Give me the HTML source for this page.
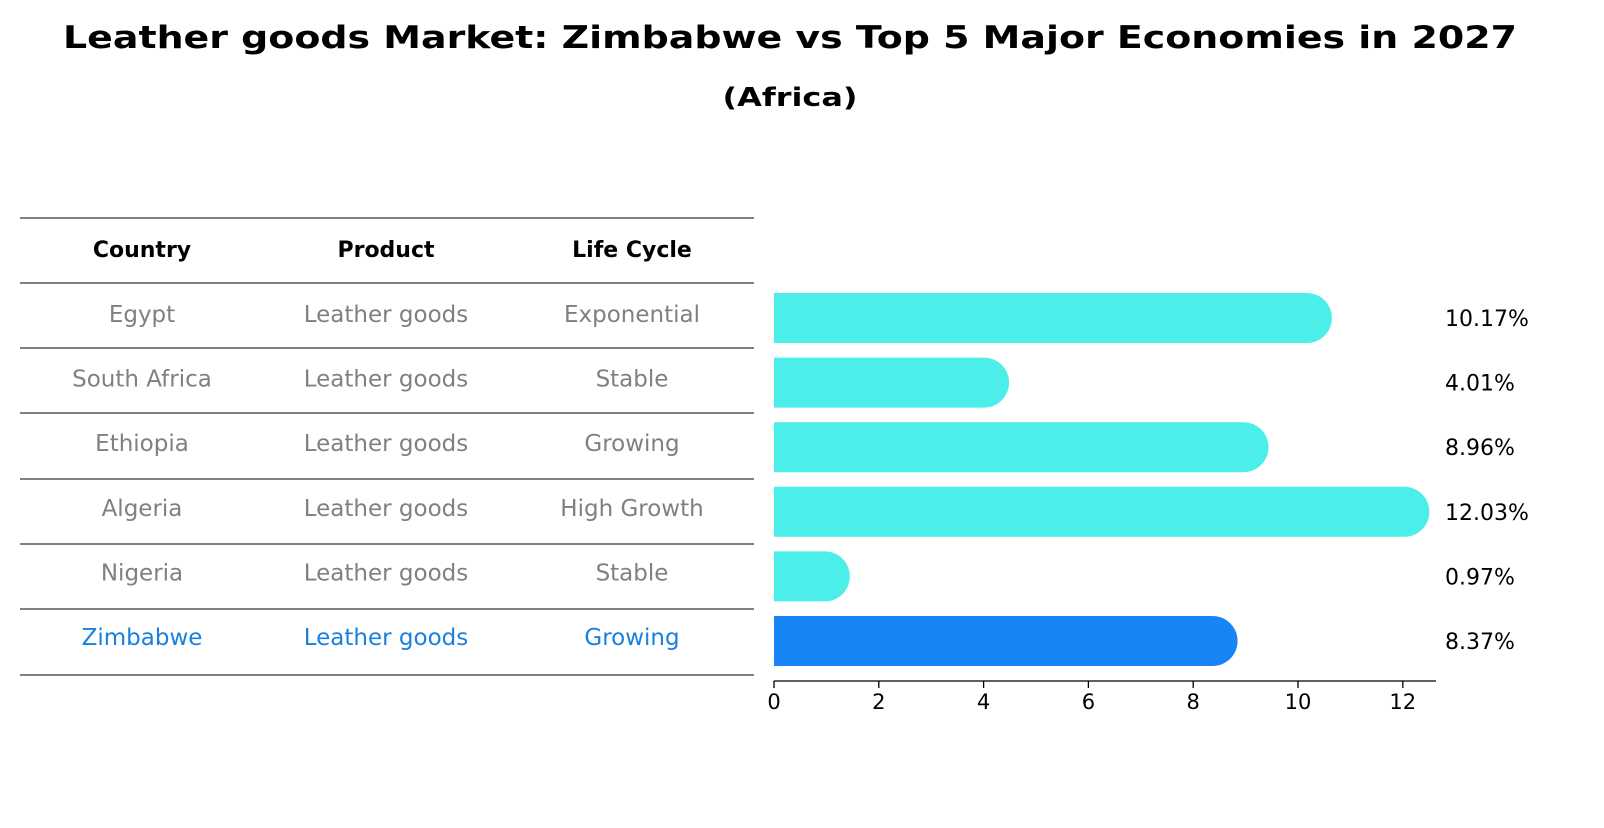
<!DOCTYPE html>
<html><head><meta charset="utf-8"><style>
body{margin:0;background:#fff;font-family:"Liberation Sans","DejaVu Sans",sans-serif;}
svg text{font-family:"DejaVu Sans","Liberation Sans",sans-serif;}
</style></head><body>
<svg id="c" width="1604" height="823" viewBox="0 0 1604 823" xmlns="http://www.w3.org/2000/svg">
<text x="790" y="48" text-anchor="middle" font-size="31" font-weight="bold" textLength="1454" lengthAdjust="spacingAndGlyphs">Leather goods Market: Zimbabwe vs Top 5 Major Economies in 2027</text>
<text x="790" y="106" text-anchor="middle" font-size="26" font-weight="bold" textLength="135" lengthAdjust="spacingAndGlyphs">(Africa)</text>
<g id="table"></g>
<g id="bars"></g>
</svg>
<script>
const countries=["Egypt","South Africa","Ethiopia","Algeria","Nigeria","Zimbabwe"];
const products=["Leather goods","Leather goods","Leather goods","Leather goods","Leather goods","Leather goods"];
const lifeCycles=["Exponential","Stable","Growing","High Growth","Stable","Growing"];
const values=[10.17,4.01,8.96,12.03,0.97,8.37];
const valueLabels=["10.17%","4.01%","8.96%","12.03%","0.97%","8.37%"];
const ticks=[0,2,4,6,8,10,12];
const NS="http://www.w3.org/2000/svg";
const x0=774,pxPer=52.4;
const xs=v=>x0+v*pxPer;
const rowY=i=>315+i*64.6;
function mk(tag,attrs,parent){const e=document.createElementNS(NS,tag);for(const k in attrs)e.setAttribute(k,attrs[k]);parent.appendChild(e);return e;}
const tb=document.getElementById('table'),bg=document.getElementById('bars');
const lines=[218,283,348,413,479,544,609,675];
lines.forEach(y=>{const l=mk('line',{x1:20,x2:754,y1:y,y2:y,stroke:'#000','stroke-width':1},tb);

});
const cx=[142,386,632];
["Country","Product","Life Cycle"].forEach((h,j)=>{const t=mk('text',{x:cx[j],y:257,'text-anchor':'middle','font-size':22,'font-weight':'bold'},tb);t.textContent=h;

});
countries.forEach((c,i)=>{const col=i===5?'#1a80e0':'#808080';
[c,products[i],lifeCycles[i]].forEach((s,j)=>{const t=mk('text',{x:cx[j],y:rowY(i)+7,'text-anchor':'middle','font-size':23,fill:col},tb);t.textContent=s;

});
const yc=rowY(i)+3,h=50,r=25;const xe=xs(values[i]);
const p=mk('path',{d:`M${x0},${yc-h/2} H${xe} A${r},${r} 0 0 1 ${xe},${yc+h/2} H${x0} Z`,fill:i===5?'#1984f5':'#4beee9'},bg);


const t=mk('text',{x:1445,y:yc+8,'font-size':22},bg);t.textContent=valueLabels[i];

});
const ax=mk('line',{x1:x0,x2:1436,y1:681,y2:681,stroke:'#000','stroke-width':1.3},bg);


ticks.forEach(v=>{const l=mk('line',{x1:xs(v),x2:xs(v),y1:681,y2:688,stroke:'#000','stroke-width':1.3},bg);


const t=mk('text',{x:xs(v),y:709,'text-anchor':'middle','font-size':21},bg);t.textContent=v;

});
</script>
</body></html>
